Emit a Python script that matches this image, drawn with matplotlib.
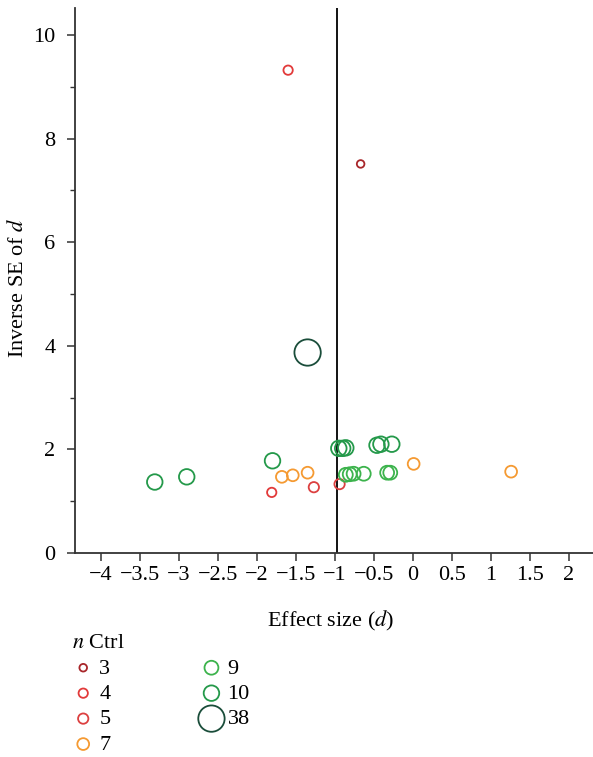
import numpy as np
import matplotlib
matplotlib.use("Agg")
import matplotlib.pyplot as plt

plt.rcParams['font.family'] = ['Liberation Serif', 'DejaVu Serif']
plt.rcParams['mathtext.fontset'] = 'stix'

# Données (taille d'effet d, inverse de l'erreur standard)
groupes = ['3', '4', '5', '7', '9', '10', '38']
couleurs = ['#a8262a', '#e23a3a', '#dc4040', '#f59a32', '#3cb34c', '#24994a', '#1a4d3a']
tailles = [30, 45, 55, 72, 100, 125, 360]

d_3 = [-0.67]
inv_3 = [7.51]
d_4 = [-1.60, -1.81]
inv_4 = [9.32, 1.17]
d_5 = [-1.27, -0.94]
inv_5 = [1.27, 1.33]
d_7 = [-1.68, -1.54, -1.35, 0.01, 1.26]
inv_7 = [1.47, 1.50, 1.55, 1.72, 1.57]
d_9 = [-0.86, -0.81, -0.76, -0.63, -0.33, -0.29]
inv_9 = [1.51, 1.52, 1.53, 1.53, 1.55, 1.55]
d_10 = [-3.31, -2.90, -1.80, -0.95, -0.90, -0.86, -0.46, -0.41, -0.27]
inv_10 = [1.37, 1.47, 1.78, 2.02, 2.02, 2.03, 2.08, 2.10, 2.10]
d_38 = [-1.35]
inv_38 = [3.87]

d_moyen = -0.97

donnees_d = [d_3, d_4, d_5, d_7, d_9, d_10, d_38]
donnees_inv = [inv_3, inv_4, inv_5, inv_7, inv_9, inv_10, inv_38]

W, H = 593, 757
fs = 16
fig = plt.figure(figsize=(W / 100, H / 100), dpi=100)
ax = fig.add_axes([75 / W, 1 - 553 / H, (W - 75) / W, (553 - 8) / H])

for g, c, s, x, y in zip(groupes, couleurs, tailles, donnees_d, donnees_inv):
    ax.scatter(x, y, s=s, facecolors='none', edgecolors=c, linewidths=1.3,
               label=g, zorder=3)

ax.axvline(d_moyen, color='black', lw=1.3, zorder=2)

ax.set_xlim(-4.333, 2.31)
ax.set_ylim(0, 10.52)
xt = np.arange(-4, 2.01, 0.5)
ax.set_xticks(xt)
ax.set_xticklabels([('%g' % v).replace('-', '\u2212') for v in xt])
ax.set_yticks(np.arange(0, 10.1, 2))
ax.set_yticks(np.arange(1, 10, 2), minor=True)

for sp in ['top', 'right']:
    ax.spines[sp].set_visible(False)
for sp in ['left', 'bottom']:
    ax.spines[sp].set_linewidth(1.3)
    ax.spines[sp].set_color('#333333')

ax.tick_params(axis='both', which='major', labelsize=fs, length=6, width=1.1, color='#333333')
ax.tick_params(axis='y', which='minor', length=3.6, width=1.0, color='#333333')
ax.tick_params(axis='x', pad=3)
ax.tick_params(axis='y', pad=8)

ax.set_xlabel('Effect size ($d$)', fontsize=fs)
ax.xaxis.set_label_coords(0.493, -(609 - 553) / (553 - 8))
ax.set_ylabel('Inverse SE of $d$', fontsize=fs)
ax.yaxis.set_label_coords(-(75 - 28) / (W - 75), (553 - 288) / (553 - 8))

leg = fig.legend(loc='upper left', bbox_to_anchor=(61 / W, 1 - 623 / H), ncol=2,
                 frameon=False, title='$n$ Ctrl', fontsize=fs, title_fontsize=fs,
                 alignment='left', labelspacing=0.22, columnspacing=4.05,
                 handletextpad=0.22, borderpad=0, handlelength=1.0)

fig.savefig('out.png', dpi=100)
